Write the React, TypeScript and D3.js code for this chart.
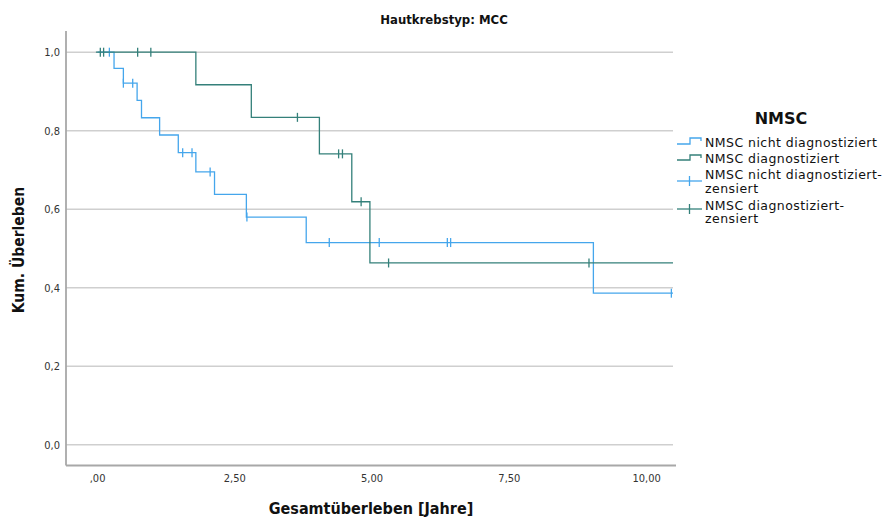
import React from "react";
import * as d3 from "d3";

const blueTimes = [0, 0.3, 0.47, 0.72, 0.8, 1.13, 1.47, 1.79, 2.13, 2.71, 3.8, 9.03];
const blueSurv = [1, 0.959, 0.921, 0.877, 0.833, 0.789, 0.744, 0.695, 0.638, 0.58, 0.515, 0.386];
const blueEnd = 10.48;
const blueCensTimes = [0.215, 0.47, 0.64, 1.55, 1.72, 2.05, 2.72, 4.22, 5.13, 6.37, 6.43, 10.45];

const greenTimes = [-0.03, 1.79, 2.8, 4.04, 4.63, 4.96];
const greenSurv = [1, 0.917, 0.834, 0.741, 0.619, 0.463];
const greenEnd = 10.48;
const greenCensTimes = [0.05, 0.11, 0.73, 0.97, 3.64, 4.39, 4.46, 4.8, 5.3, 8.95];

const xTicks = [0, 2.5, 5, 7.5, 10];
const xTickLabels = [",00", "2,50", "5,00", "7,50", "10,00"];
const yTicks = [0, 0.2, 0.4, 0.6, 0.8, 1.0];
const yTickLabels = ["0,0", "0,2", "0,4", "0,6", "0,8", "1,0"];

const legendLabels = [
  ["NMSC nicht diagnostiziert"],
  ["NMSC diagnostiziert"],
  ["NMSC nicht diagnostiziert-", "zensiert"],
  ["NMSC diagnostiziert-", "zensiert"],
];

const BLUE = "#45a6ec";
const GREEN = "#34807a";
const COND = "'DejaVu Sans Condensed', 'Liberation Sans Narrow', 'Roboto Condensed', sans-serif";
const SANS = "'DejaVu Sans', sans-serif";

function survAt(times: number[], surv: number[], t: number) {
  let s = surv[0];
  for (let i = 0; i < times.length; i++) if (times[i] <= t) s = surv[i];
  return s;
}

export default function App() {
  const W = 885, H = 517;
  const L = 66, R = 673, T = 31, B = 465.5;
  const x = d3.scaleLinear().domain([-0.575, 10.48]).range([L, R]);
  const y = d3.scaleLinear().domain([-0.053, 1.054]).range([B, T]);

  const stepLine = d3
    .line<[number, number]>()
    .x((d) => x(d[0]))
    .y((d) => y(d[1]))
    .curve(d3.curveStepAfter);

  const bluePts: [number, number][] = blueTimes.map((t, i) => [t, blueSurv[i]]);
  bluePts.push([blueEnd, blueSurv[blueSurv.length - 1]]);
  const greenPts: [number, number][] = greenTimes.map((t, i) => [t, greenSurv[i]]);
  greenPts.push([greenEnd, greenSurv[greenSurv.length - 1]]);

  const cens = (times: number[], tt: number[], ss: number[], color: string, key: string) =>
    times.map((t, i) => {
      const cx = x(t);
      const cy = y(survAt(tt, ss, t));
      return (
        <line key={key + i} x1={cx} x2={cx} y1={cy - 4.5} y2={cy + 4.5} stroke={color} strokeWidth={1.3} />
      );
    });

  const legX = 677;
  return (
    <svg width={W} height={H} style={{ position: "absolute", left: 0, top: 0, background: "#fff" }}>
      <rect x={0} y={0} width={W} height={H} fill="#fff" />
      {yTicks.map((v, i) => (
        <line key={"g" + i} x1={L} x2={R} y1={y(v)} y2={y(v)} stroke="#cfcfcf" strokeWidth={1.5} />
      ))}
      <line x1={L} x2={L} y1={T} y2={B} stroke="#a8a8a8" strokeWidth={1.8} />
      <line x1={L} x2={R + 3} y1={B} y2={B} stroke="#a8a8a8" strokeWidth={1.8} />
      {yTicks.map((v, i) => (
        <text key={"yt" + i} x={60} y={y(v)} dy="0.35em" textAnchor="end" fontFamily={COND} fontSize={11} fill="#333">
          {yTickLabels[i]}
        </text>
      ))}
      {xTicks.map((v, i) => (
        <text key={"xt" + i} x={x(v)} y={478} dy="0.35em" textAnchor="middle" fontFamily={COND} fontSize={11} fill="#333">
          {xTickLabels[i]}
        </text>
      ))}
      <path d={stepLine(bluePts) || ""} fill="none" stroke={BLUE} strokeWidth={1.3} />
      {cens(blueCensTimes, blueTimes, blueSurv, BLUE, "bc")}
      <path d={stepLine(greenPts) || ""} fill="none" stroke={GREEN} strokeWidth={1.3} />
      {cens(greenCensTimes, greenTimes, greenSurv, GREEN, "gc")}
      <text x={444} y={19} dy="0.35em" textAnchor="middle" fontFamily={COND} fontWeight="bold" fontSize={13} fill="#111">
        Hautkrebstyp: MCC
      </text>
      <text x={371} y={508} dy="0.35em" textAnchor="middle" fontFamily={COND} fontWeight="bold" fontSize={16} fill="#111">
        Gesamtüberleben [Jahre]
      </text>
      <text transform={`translate(19,250) rotate(-90)`} dy="0.35em" textAnchor="middle" fontFamily={COND} fontWeight="bold" fontSize={15.5} fill="#111">
        Kum. Überleben
      </text>
      <text x={781} y={118} dy="0.35em" textAnchor="middle" fontFamily={SANS} fontWeight="bold" fontSize={16} fill="#111">
        NMSC
      </text>
      <path d={`M${legX},144H${legX + 13}V138H${legX + 24}V141`} fill="none" stroke={BLUE} strokeWidth={1.3} />
      <path d={`M${legX},160H${legX + 13}V155H${legX + 24}V158`} fill="none" stroke={GREEN} strokeWidth={1.3} />
      <line x1={legX} x2={legX + 25} y1={181} y2={181} stroke={BLUE} strokeWidth={1.3} />
      <line x1={legX + 12.5} x2={legX + 12.5} y1={176} y2={186} stroke={BLUE} strokeWidth={1.3} />
      <line x1={legX} x2={legX + 25} y1={209} y2={209} stroke={GREEN} strokeWidth={1.3} />
      <line x1={legX + 12.5} x2={legX + 12.5} y1={204} y2={214} stroke={GREEN} strokeWidth={1.3} />
      {[142.5, 159].map((yy, i) => (
        <text key={"l" + i} x={705} y={yy} dy="0.35em" fontFamily={SANS} fontSize={12.5} letterSpacing={0.45} fill="#111">
          {legendLabels[i][0]}
        </text>
      ))}
      {[[175, 188.5], [205.5, 219]].map((ys, i) =>
        ys.map((yy, j) => (
          <text key={"m" + i + j} x={705} y={yy} dy="0.35em" fontFamily={SANS} fontSize={12.5} letterSpacing={0.45} fill="#111">
            {legendLabels[i + 2][j]}
          </text>
        ))
      )}
    </svg>
  );
}
